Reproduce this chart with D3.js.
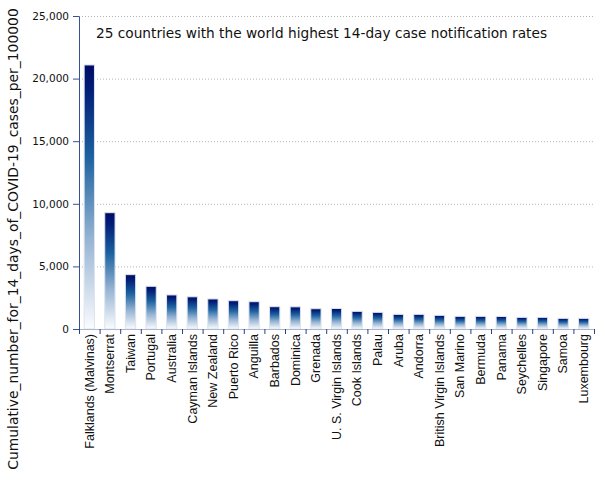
<!DOCTYPE html>
<html><head><meta charset="utf-8">
<script src="https://cdn.jsdelivr.net/npm/d3@7"></script>
<style>body{margin:0;background:#fff}svg{display:block}</style>
</head><body>
<svg id="c" width="605" height="480"></svg>
<script>
const countries = ["Falklands (Malvinas)","Montserrat","Taiwan","Portugal","Australia","Cayman Islands","New Zealand","Puerto Rico","Anguilla","Barbados","Dominica","Grenada","U. S. Virgin Islands","Cook Islands","Palau","Aruba","Andorra","British Virgin Islands","San Marino","Bermuda","Panama","Seychelles","Singapore","Samoa","Luxembourg"];
const values = [21090,9290,4340,3410,2720,2570,2400,2260,2180,1780,1770,1620,1640,1410,1330,1170,1170,1090,1010,1010,1000,930,930,850,850];
const yTicks = [0,5000,10000,15000,20000,25000];
const titleText = "25 countries with the world highest 14-day case notification rates";
const yLabel = "Cumulative_number_for_14_days_of_COVID-19_cases_per_100000";

const svg = d3.select("#c");
const m = {l:79, r:594, t:16, b:329};
const x = d3.scaleBand().domain(countries).range([m.l, m.r]).paddingInner(0.5).paddingOuter(0.25);
const y = d3.scaleLinear().domain([0,25000]).range([m.b, m.t]);

const defs = svg.append("defs");
const g = defs.append("linearGradient").attr("id","bg").attr("x1",0).attr("y1",0).attr("x2",0).attr("y2",1);
[[0,"#000a66"],[0.1,"#021f78"],[0.35,"#1d62a0"],[0.65,"#93b2d2"],[1,"#fbfcfe"]].forEach(s=>g.append("stop").attr("offset",s[0]).attr("stop-color",s[1]));

// grid
svg.append("g").selectAll("line").data(yTicks.filter(t=>t>0)).join("line")
  .attr("x1",m.l).attr("x2",m.r).attr("y1",d=>y(d)+0.5).attr("y2",d=>y(d)+0.5)
  .attr("stroke","#b4b4b4").attr("stroke-dasharray","1,2");

// bars
svg.append("g").selectAll("rect").data(values).join("rect")
  .attr("x",(d,i)=>x(countries[i])).attr("width",x.bandwidth())
  .attr("y",d=>y(d)).attr("height",d=>y(0)-y(d))
  .attr("fill","url(#bg)").attr("stroke","#dde3ee").attr("stroke-width",1);

// y axis
const ya = svg.append("g").attr("transform",`translate(${m.l},0)`)
  .call(d3.axisLeft(y).tickValues(yTicks).tickFormat(d3.format(",")).tickSize(6).tickSizeOuter(0));
ya.select(".domain").attr("stroke","#3b4f96");
ya.selectAll(".tick line").attr("stroke","#3b4f96");
ya.selectAll("text").attr("font-family","DejaVu Sans").attr("font-size",10.5).attr("fill","#111").attr("x",-10);

// x axis
const xa = svg.append("g").attr("transform",`translate(0,${m.b})`)
  .call(d3.axisBottom(x).tickSize(0).tickSizeOuter(0));
xa.select(".domain").attr("stroke","#aab4cc");
xa.selectAll(".tick line").remove();
const bounds = d3.range(countries.length+1).map(i=>m.l + i*(m.r-m.l)/countries.length);
xa.selectAll(".bt").data(bounds).join("line").attr("class","bt")
  .attr("x1",d=>d+0.5).attr("x2",d=>d+0.5).attr("y1",0).attr("y2",5).attr("stroke","#2b3f8a");
xa.selectAll(".tick text").attr("font-family","Liberation Sans").attr("font-size",12.5).attr("fill","#111")
  .attr("transform","rotate(-90)").attr("text-anchor","end").attr("x",-5).attr("y",0).attr("dy","0.35em");

// title
svg.append("text").attr("x",96).attr("y",38).attr("font-family","DejaVu Sans").attr("font-size",13.7).attr("fill","#111").text(titleText);

// y label
svg.append("text").attr("transform","translate(18,239) rotate(-90)").attr("text-anchor","middle")
  .attr("font-family","DejaVu Sans").attr("font-size",13.9).attr("fill","#111").text(yLabel);
</script>
</body></html>
